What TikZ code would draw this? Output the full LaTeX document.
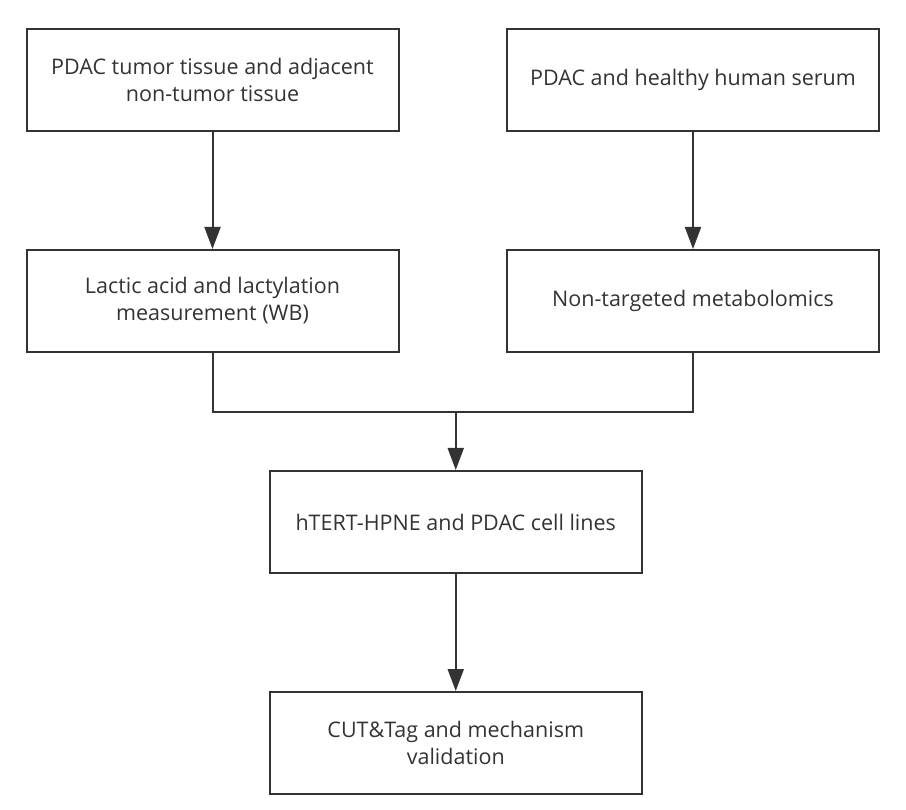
\documentclass[tikz,border=0pt]{standalone}
\usepackage{fontspec}
\setmainfont{Open Sans}
\usepackage{xcolor}
\usetikzlibrary{arrows.meta, positioning, calc}
\definecolor{ink}{HTML}{333333}

\begin{document}
\begin{tikzpicture}[
    node distance=117pt and 106.5pt,
    box/.style={draw=ink, line width=2pt, minimum width=372pt, minimum height=102pt, align=center, text=ink, font=\fontsize{21.5}{27}\selectfont},
    line/.style={draw=ink, line width=2pt},
    arrow/.style={line, -{Triangle[length=22pt, width=16pt]}}
]
    \useasboundingbox (0,0) rectangle (906pt,-810pt);

    \node[box] (tissue) at (212.5pt,-80pt) {PDAC tumor tissue and adjacent\\non-tumor tissue};
    \node[box, right=of tissue] (serum) {PDAC and healthy human serum};
    \node[box, below=of tissue] (lactate) {Lactic acid and lactylation\\measurement (WB)};
    \node[box, below=of serum] (metab) {Non-targeted metabolomics};
    \node[box, below=of $(lactate.south)!0.5!(metab.south)$, xshift=3pt] (cells) {hTERT-HPNE and PDAC cell lines};
    \node[box, below=of cells] (cuttag) {CUT\&Tag and mechanism\\validation};

    \coordinate (join) at ($(cells.north)+(0,58pt)$);

    \draw[arrow] (tissue) -- (lactate);
    \draw[arrow] (serum) -- (metab);
    \draw[line] (lactate.south) |- (join) -| (metab.south);
    \draw[arrow] (join) -- (cells);
    \draw[arrow] (cells) -- (cuttag);
\end{tikzpicture}
\end{document}
